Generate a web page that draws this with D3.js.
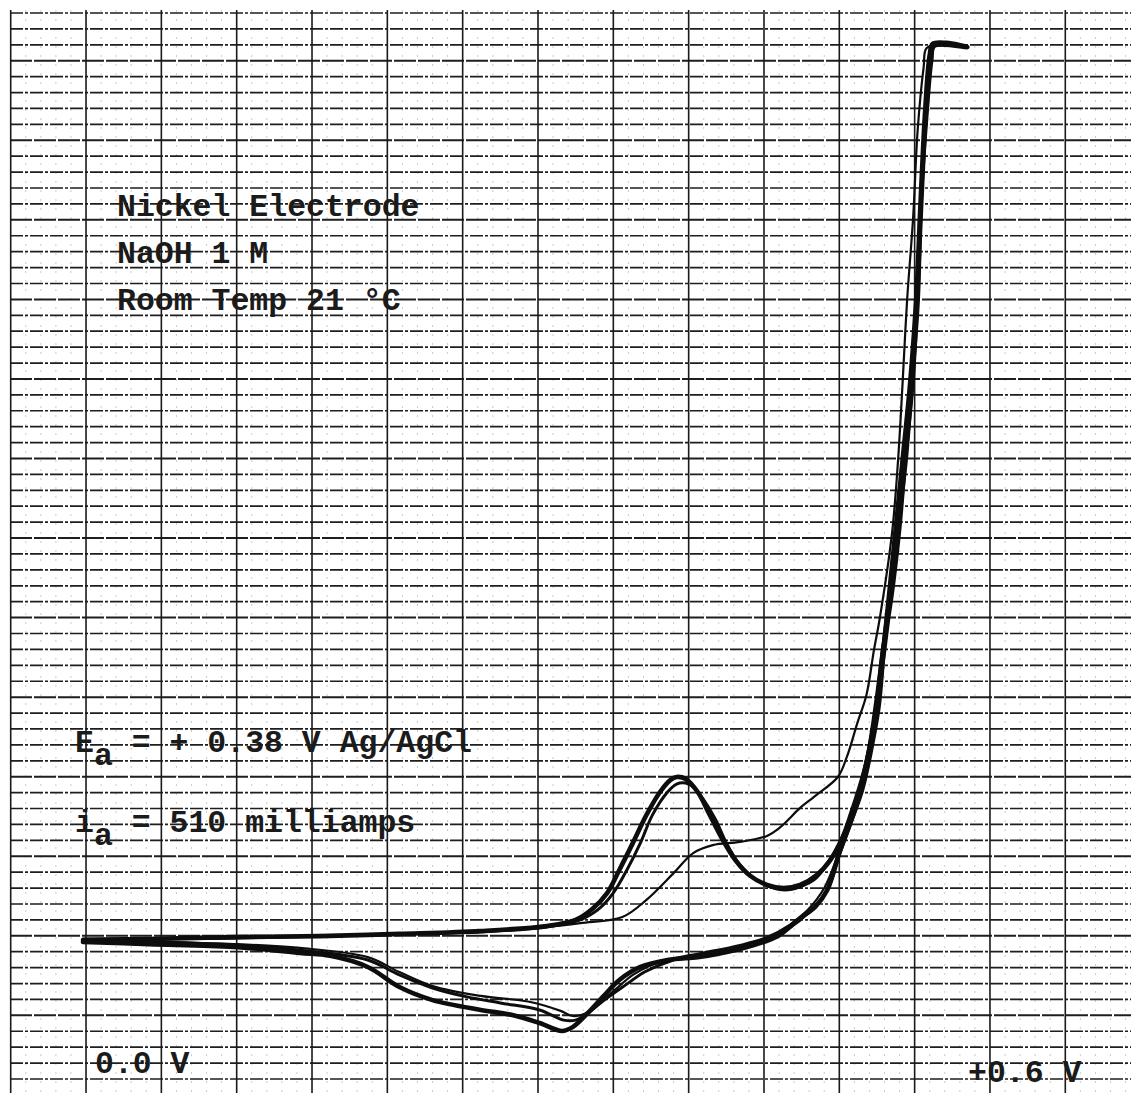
<!DOCTYPE html>
<html>
<head>
<meta charset="utf-8">
<script src="https://cdn.jsdelivr.net/npm/d3@7"></script>
<style>
  body { margin: 0; background: #fff; }
  svg { display: block; }
  .note {
    font-family: "Liberation Mono", "DejaVu Sans Mono", monospace;
    font-weight: bold;
    font-size: 31.5px;
    fill: #1b1b1b;
  }
</style>
</head>
<body>
<div id="viz-chart"></div>
<script>
// potential (V vs Ag/AgCl), current (mA)

// first scan (thin trace)
const cycle1 = [
  [-0.002, -13], [0.098, -7], [0.208, 6], [0.262, 12], [0.306, 28], [0.328, 40],
  [0.356, 59], [0.372, 113], [0.390, 197], [0.403, 260], [0.416, 285], [0.434, 295],
  [0.452, 314], [0.461, 342], [0.474, 402], [0.483, 436], [0.499, 499], [0.505, 562],
  [0.512, 669], [0.518, 757], [0.523, 898], [0.527, 1002], [0.535, 1266], [0.539, 1495],
  [0.542, 1737], [0.545, 1998], [0.549, 2257], [0.552, 2532], [0.556, 2731], [0.558, 2790],
  [0.571, 2803], [0.585, 2793],
  [0.562, 2793], [0.560, 2752], [0.557, 2595], [0.554, 2313], [0.551, 1998], [0.547, 1737],
  [0.542, 1495], [0.538, 1266], [0.531, 1002], [0.524, 741], [0.519, 584], [0.513, 458],
  [0.506, 358], [0.499, 254], [0.490, 150], [0.479, 81], [0.467, 34], [0.452, -4],
  [0.434, -29], [0.408, -54], [0.388, -73], [0.374, -95], [0.363, -123], [0.351, -170],
  [0.341, -211], [0.331, -245], [0.323, -252], [0.315, -236], [0.295, -208], [0.262, -189],
  [0.230, -158], [0.208, -114], [0.187, -67], [0.142, -38], [0.098, -26], [-0.002, -16]
];

// second scan
const cycle2 = [
  [-0.002, -10], [0.098, -7], [0.208, 6], [0.262, 12], [0.306, 28], [0.328, 50],
  [0.341, 87], [0.350, 135], [0.359, 207], [0.368, 292], [0.376, 380], [0.386, 452],
  [0.392, 477], [0.398, 480], [0.403, 468], [0.410, 427], [0.418, 364], [0.425, 292],
  [0.434, 223], [0.444, 179], [0.454, 154], [0.464, 144], [0.474, 154], [0.484, 179],
  [0.492, 226], [0.500, 292], [0.507, 371], [0.514, 474], [0.519, 578], [0.524, 710],
  [0.529, 914], [0.533, 1002], [0.540, 1266], [0.544, 1495], [0.548, 1737], [0.552, 1998],
  [0.555, 2313], [0.558, 2595], [0.561, 2768], [0.562, 2797], [0.571, 2806], [0.585, 2793],
  [0.564, 2800], [0.561, 2768], [0.558, 2595], [0.555, 2313], [0.552, 1998], [0.549, 1737],
  [0.544, 1495], [0.540, 1266], [0.533, 1002], [0.526, 741], [0.521, 584], [0.515, 458],
  [0.508, 358], [0.500, 254], [0.492, 144], [0.480, 75], [0.467, 25], [0.452, -10],
  [0.434, -35], [0.408, -60], [0.388, -79], [0.371, -113], [0.358, -155], [0.344, -202],
  [0.334, -240], [0.325, -265], [0.317, -265], [0.301, -233], [0.275, -211], [0.253, -192],
  [0.230, -164], [0.208, -123], [0.187, -76], [0.142, -45], [0.098, -29], [0.042, -19],
  [-0.002, -16]
];

// third scan (heaviest trace)
const cycle3 = [
  [-0.002, -13], [0.042, -10], [0.098, -4], [0.155, -1], [0.208, 6], [0.262, 15],
  [0.306, 31], [0.325, 50], [0.336, 84], [0.346, 135], [0.354, 207], [0.363, 292],
  [0.372, 380], [0.381, 452], [0.388, 490], [0.392, 499], [0.398, 493], [0.406, 452],
  [0.414, 380], [0.422, 307], [0.431, 238], [0.441, 188], [0.452, 160], [0.463, 150],
  [0.474, 160], [0.485, 191], [0.494, 238], [0.502, 307], [0.508, 386], [0.515, 490],
  [0.520, 584], [0.525, 719], [0.530, 930], [0.536, 1212], [0.542, 1495], [0.547, 1737],
  [0.551, 1998], [0.554, 2313], [0.557, 2595], [0.560, 2768], [0.562, 2803], [0.571, 2806],
  [0.585, 2793],
  [0.563, 2797], [0.561, 2752], [0.558, 2595], [0.554, 2313], [0.552, 1998], [0.548, 1737],
  [0.544, 1495], [0.537, 1212], [0.530, 930], [0.526, 719], [0.521, 584], [0.515, 458],
  [0.508, 364], [0.500, 260], [0.492, 144], [0.484, 91], [0.474, 56], [0.459, -1],
  [0.441, -32], [0.419, -57], [0.406, -67], [0.386, -76], [0.368, -98], [0.354, -139],
  [0.343, -192], [0.333, -243], [0.323, -287], [0.316, -299], [0.301, -274], [0.283, -249],
  [0.262, -233], [0.230, -202], [0.208, -161], [0.187, -98], [0.162, -63], [0.142, -54],
  [0.098, -35], [0.042, -26], [-0.002, -19]
];

const traces = [
  { name: "cycle 1", points: cycle1, weight: 2.2 },
  { name: "cycle 2", points: cycle2, weight: 3 },
  { name: "cycle 3", points: cycle3, weight: 4.6 }
];

// chart paper: 0.05 V per heavy column, 50 mA per row
const majorVolts = d3.range(-1, 14).map((i) => i * 0.05);
const minorVolts = d3.range(-5, 71).map((i) => i * 0.01);
const rowCurrents = d3.range(-9, 59).map((i) => i * 50);

const width = 1131;
const height = 1093;

const x = d3.scaleLinear().domain([-0.05, 0.65]).range([10.7, 1065.3]);
const y = d3.scaleLinear().domain([-450, 2900]).range([1079, 13]);

const svg = d3
  .select("#viz-chart")
  .append("svg")
  .attr("width", width)
  .attr("height", height)
  .style("background", "#fff");

// faint dotted minor columns
svg
  .append("g")
  .selectAll("line")
  .data(minorVolts.filter((v) => Math.round(v * 100) % 5 !== 0))
  .enter()
  .append("line")
  .attr("x1", (d) => x(d))
  .attr("x2", (d) => x(d))
  .attr("y1", 10)
  .attr("y2", height)
  .style("stroke", "#9a9a9a")
  .style("stroke-width", 1)
  .style("stroke-dasharray", "2 7")
  .style("opacity", 0.5);

// rows
svg
  .append("g")
  .selectAll("line")
  .data(rowCurrents)
  .enter()
  .append("line")
  .attr("x1", 10)
  .attr("x2", width)
  .attr("y1", (d) => y(d))
  .attr("y2", (d) => y(d))
  .style("stroke", "#1e1e1e")
  .style("stroke-width", (d) => (d % 250 === 0 ? 2 : 1.7))
  .style("stroke-dasharray", (d) => (d % 250 === 0 ? "22 2" : "13 2 3 2"));

// heavy columns
svg
  .append("g")
  .selectAll("line")
  .data(majorVolts)
  .enter()
  .append("line")
  .attr("x1", (d) => x(d))
  .attr("x2", (d) => x(d))
  .attr("y1", 10)
  .attr("y2", height)
  .style("stroke", "#1a1a1a")
  .style("stroke-width", 1.6);

// voltammogram traces
const line = d3
  .line()
  .x((d) => x(d[0]))
  .y((d) => y(d[1]))
  .curve(d3.curveCatmullRom.alpha(0.5));

svg
  .append("g")
  .selectAll("path")
  .data(traces)
  .enter()
  .append("path")
  .attr("d", (d) => line(d.points))
  .style("fill", "none")
  .style("stroke", "#0d0d0d")
  .style("stroke-width", (d) => d.weight)
  .style("stroke-linejoin", "round")
  .style("stroke-linecap", "round");

// typed annotations
const notes = svg.append("g").attr("class", "note");

notes.append("text").attr("x", 117).attr("y", 216).text("Nickel Electrode");
notes.append("text").attr("x", 117).attr("y", 263).text("NaOH 1 M");
notes.append("text").attr("x", 117).attr("y", 310).text("Room Temp 21 °C");

const ea = notes.append("text").attr("x", 75).attr("y", 752);
ea.append("tspan").text("E");
ea.append("tspan").attr("dy", 13).text("a");
ea.append("tspan").attr("dy", -13).text(" = + 0.38 V Ag/AgCl");

const ia = notes.append("text").attr("x", 75).attr("y", 832);
ia.append("tspan").text("i");
ia.append("tspan").attr("dy", 13).text("a");
ia.append("tspan").attr("dy", -13).text(" = 510 milliamps");

notes.append("text").attr("x", 95).attr("y", 1073).text("0.0 V");
notes.append("text").attr("x", 968).attr("y", 1082).text("+0.6 V");
</script>
</body>
</html>
